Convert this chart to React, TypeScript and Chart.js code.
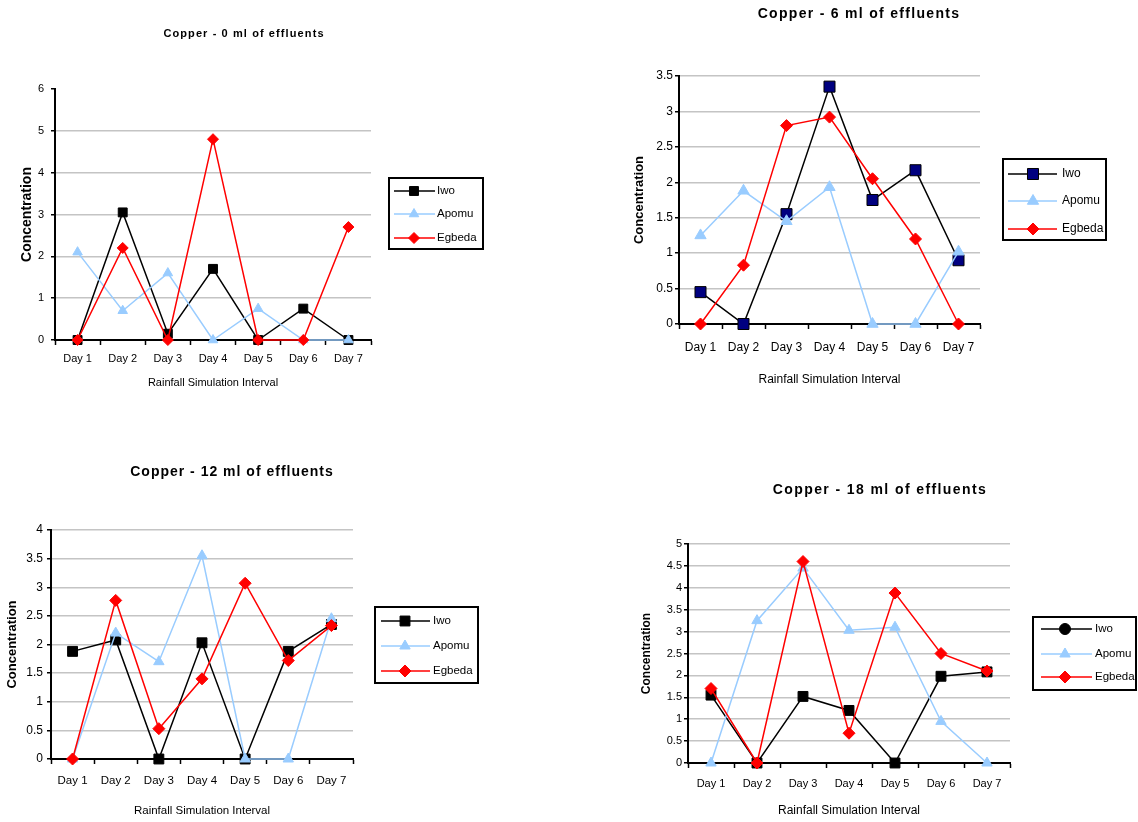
import React, { useEffect, useRef } from 'react';
import { Chart, registerables } from 'chart.js';
import { drawPoint } from 'chart.js/helpers';

Chart.register(...registerables);

const W = 1138;
const H = 822;
const FONT = "'Liberation Sans', Arial, sans-serif";

// Sampling days (categories)
const days = ['Day 1', 'Day 2', 'Day 3', 'Day 4', 'Day 5', 'Day 6', 'Day 7'];
const seriesNames = ['Iwo', 'Apomu', 'Egbeda'];
const xAxisTitle = 'Rainfall Simulation Interval';
const yAxisTitle = 'Concentration';

// Copper concentration, 0 ml of effluents
const iwo0 = [0, 3.05, 0.15, 1.7, 0, 0.75, 0];
const apomu0 = [2.1, 0.7, 1.6, 0, 0.75, 0, 0];
const egbeda0 = [0, 2.2, 0, 4.8, 0, 0, 2.7];

// Copper concentration, 6 ml of effluents
const iwo6 = [0.45, 0, 1.55, 3.35, 1.75, 2.17, 0.9];
const apomu6 = [1.25, 1.88, 1.45, 1.93, 0, 0, 1.02];
const egbeda6 = [0, 0.83, 2.8, 2.92, 2.05, 1.2, 0];

// Copper concentration, 12 ml of effluents
const iwo12 = [1.88, 2.08, 0, 2.03, 0, 1.88, 2.35];
const apomu12 = [0, 2.2, 1.7, 3.55, 0, 0, 2.45];
const egbeda12 = [0, 2.77, 0.53, 1.4, 3.07, 1.72, 2.33];

// Copper concentration, 18 ml of effluents
const iwo18 = [1.55, 0, 1.52, 1.2, 0, 1.98, 2.08];
const apomu18 = [0, 3.25, 4.45, 3.03, 3.1, 0.95, 0];
const egbeda18 = [1.7, 0, 4.6, 0.68, 3.88, 2.5, 2.1];

type Panel = {
  title: string;
  titleX: number;
  titleY: number;
  titleSize: number;
  titleSpacing: number;
  series: number[][];
  yMax: number;
  yStep: number;
  topGrid: boolean;
  area: { l: number; t: number; r: number; b: number };
  yTitleX: number;
  yTitleSize: number;
  xTitleY: number;
  xTitleSize: number;
  xTickSize: number;
  yTickSize: number;
  xTickPad: number;
  yTickPad: number;
  legend: { x: number; y: number; w: number; h: number; rows: number[]; x1: number; x2: number; mx: number; tx: number; size: number };
  radii: number[];
  iwoFill: string;
  iwoLegendStyle: string;
  iwoLegendRadius: number;
};

const panels: Panel[] = [
  {
    title: 'Copper - 0 ml of effluents',
    titleX: 244, titleY: 34, titleSize: 11, titleSpacing: 1.1,
    series: [iwo0, apomu0, egbeda0],
    yMax: 6, yStep: 1, topGrid: false,
    area: { l: 55, t: 89, r: 371, b: 340 },
    yTitleX: 27, yTitleSize: 14, xTitleY: 383, xTitleSize: 11,
    xTickSize: 11, yTickSize: 11, xTickPad: 7, yTickPad: 7,
    legend: { x: 389, y: 178, w: 94, h: 71, rows: [191, 214, 238], x1: 394, x2: 435, mx: 414, tx: 437, size: 11.5 },
    radii: [6.3, 5.5, 5.5], iwoFill: '#000000', iwoLegendStyle: 'rect', iwoLegendRadius: 6.3,
  },
  {
    title: 'Copper - 6 ml of effluents',
    titleX: 859, titleY: 14, titleSize: 14, titleSpacing: 1.3,
    series: [iwo6, apomu6, egbeda6],
    yMax: 3.5, yStep: 0.5, topGrid: true,
    area: { l: 679, t: 76, r: 980, b: 324 },
    yTitleX: 639, yTitleSize: 13, xTitleY: 380, xTitleSize: 12,
    xTickSize: 12, yTickSize: 12, xTickPad: 11.8, yTickPad: 2,
    legend: { x: 1003, y: 159, w: 103, h: 81, rows: [174, 201, 229], x1: 1008, x2: 1057, mx: 1033, tx: 1062, size: 12 },
    radii: [7.8, 6.5, 6], iwoFill: '#000080', iwoLegendStyle: 'rect', iwoLegendRadius: 7.8,
  },
  {
    title: 'Copper - 12 ml of effluents',
    titleX: 232, titleY: 472, titleSize: 14, titleSpacing: 1,
    series: [iwo12, apomu12, egbeda12],
    yMax: 4, yStep: 0.5, topGrid: true,
    area: { l: 51, t: 530, r: 353, b: 759 },
    yTitleX: 12, yTitleSize: 13, xTitleY: 811, xTitleSize: 11.5,
    xTickSize: 11.5, yTickSize: 12, xTickPad: 10.1, yTickPad: 4,
    legend: { x: 375, y: 607, w: 103, h: 76, rows: [621, 646, 671], x1: 381, x2: 430, mx: 405, tx: 433, size: 11.5 },
    radii: [7, 6, 6], iwoFill: '#000000', iwoLegendStyle: 'rect', iwoLegendRadius: 7,
  },
  {
    title: 'Copper - 18 ml of effluents',
    titleX: 880, titleY: 490, titleSize: 14, titleSpacing: 1.4,
    series: [iwo18, apomu18, egbeda18],
    yMax: 5, yStep: 0.5, topGrid: true,
    area: { l: 688, t: 544, r: 1010, b: 763 },
    yTitleX: 647, yTitleSize: 12, xTitleY: 811, xTitleSize: 12,
    xTickSize: 11, yTickSize: 11, xTickPad: 9.4, yTickPad: 2,
    legend: { x: 1033, y: 617, w: 103, h: 73, rows: [629, 654, 677], x1: 1041, x2: 1092, mx: 1065, tx: 1095, size: 11.5 },
    radii: [7, 6, 6], iwoFill: '#000000', iwoLegendStyle: 'circle', iwoLegendRadius: 5.5,
  },
];

const colors = ['#000000', '#99ccff', '#ff0000'];
const styles = ['rect', 'triangle', 'rectRot'];

// Chart title and boxed legend for one panel
function decorPlugin(p: Panel) {
  return {
    id: 'panelDecor',
    afterDraw(chart: any) {
      const ctx = chart.ctx as CanvasRenderingContext2D;
      ctx.save();
      ctx.fillStyle = '#000';
      ctx.font = `bold ${p.titleSize}px ${FONT}`;
      (ctx as any).letterSpacing = `${p.titleSpacing}px`;
      ctx.textAlign = 'center';
      ctx.textBaseline = 'middle';
      ctx.fillText(p.title, p.titleX, p.titleY);
      (ctx as any).letterSpacing = '0px';

      const lg = p.legend;
      ctx.lineWidth = 2;
      ctx.strokeStyle = '#000';
      ctx.strokeRect(lg.x, lg.y, lg.w, lg.h);

      chart.data.datasets.forEach((ds: any, i: number) => {
        const y = lg.rows[i];
        ctx.strokeStyle = ds.borderColor;
        ctx.lineWidth = ds.borderWidth;
        ctx.beginPath();
        ctx.moveTo(lg.x1, y);
        ctx.lineTo(lg.x2, y);
        ctx.stroke();
        ctx.fillStyle = ds.pointBackgroundColor;
        ctx.strokeStyle = ds.pointBorderColor;
        ctx.lineWidth = ds.pointBorderWidth;
        drawPoint(ctx, {
          pointStyle: i === 0 ? p.iwoLegendStyle : ds.pointStyle,
          rotation: 0,
          radius: i === 0 ? p.iwoLegendRadius : ds.pointRadius,
          borderWidth: ds.pointBorderWidth,
        } as any, lg.mx, y);
        ctx.fillStyle = '#000';
        ctx.font = `${lg.size}px ${FONT}`;
        ctx.textAlign = 'left';
        ctx.textBaseline = 'middle';
        ctx.fillText(ds.label, lg.tx, y);
      });
      ctx.restore();
    },
  };
}

function PanelChart({ p }: { p: Panel }) {
  const ref = useRef<HTMLCanvasElement>(null);

  useEffect(() => {
    if (!ref.current) return;
    const yLh = p.yTitleSize * 1.2;
    const xLh = p.xTitleSize * 1.2;
    const yScaleLeft = p.yTitleX - yLh / 2;
    const yWidth = p.area.l - yScaleLeft;
    const xHeight = p.xTitleY + xLh / 2 - p.area.b;

    const datasets = seriesNames.map((name, i) => ({
      label: name,
      data: p.series[i],
      borderColor: colors[i],
      backgroundColor: colors[i],
      borderWidth: 1.5,
      pointStyle: styles[i],
      pointRadius: p.radii[i],
      pointBackgroundColor: i === 0 ? p.iwoFill : colors[i],
      pointBorderColor: colors[i],
      pointBorderWidth: 1,
      tension: 0,
      clip: false as any,
      order: 2 - i,
    }));

    const chart = new Chart(ref.current, {
      type: 'line',
      data: { labels: days, datasets },
      options: {
        animation: false,
        responsive: false,
        events: [],
        layout: {
          padding: {
            left: yScaleLeft,
            top: p.area.t,
            right: W - p.area.r,
            bottom: H - p.area.b - xHeight,
          },
        },
        plugins: {
          legend: { display: false },
          title: { display: false },
          tooltip: { enabled: false },
        },
        scales: {
          x: {
            type: 'category',
            offset: true,
            grid: {
              offset: true,
              drawOnChartArea: false,
              drawTicks: true,
              tickLength: 5,
              tickColor: '#000',
              tickWidth: 1.5,
            },
            border: { color: '#000', width: 2 },
            ticks: {
              color: '#000',
              font: { family: FONT, size: p.xTickSize },
              padding: p.xTickPad,
              maxRotation: 0,
              autoSkip: false,
            },
            title: {
              display: true,
              text: xAxisTitle,
              color: '#000',
              font: { family: FONT, size: p.xTitleSize },
              padding: 0,
            },
            afterFit: (s: any) => { s.height = xHeight; },
          },
          y: {
            min: 0,
            max: p.yMax,
            ticks: {
              stepSize: p.yStep,
              color: '#000',
              font: { family: FONT, size: p.yTickSize },
              padding: p.yTickPad,
              callback: (v: any) => String(+v),
            },
            grid: {
              color: (c: any) => (!p.topGrid && c.tick && c.tick.value === p.yMax ? 'rgba(0,0,0,0)' : '#c4c4c4'),
              lineWidth: 1.5,
              drawTicks: true,
              tickLength: 4,
              tickColor: '#000',
              tickWidth: 1.5,
            },
            border: { color: '#000', width: 2 },
            title: {
              display: true,
              text: yAxisTitle,
              color: '#000',
              font: { family: FONT, size: p.yTitleSize, weight: 'bold' },
              padding: 0,
            },
            afterFit: (s: any) => { s.width = yWidth; },
          },
        },
      },
      plugins: [decorPlugin(p)],
    } as any);

    return () => chart.destroy();
  }, [p]);

  return (
    <canvas
      ref={ref}
      width={W}
      height={H}
      style={{ position: 'absolute', left: 0, top: 0, width: W, height: H }}
    />
  );
}

export default function App() {
  return (
    <div
      style={{
        position: 'absolute',
        left: 0,
        top: 0,
        width: W,
        height: H,
        background: '#ffffff',
        overflow: 'hidden',
      }}
    >
      {panels.map((p, i) => (
        <PanelChart key={i} p={p} />
      ))}
    </div>
  );
}
